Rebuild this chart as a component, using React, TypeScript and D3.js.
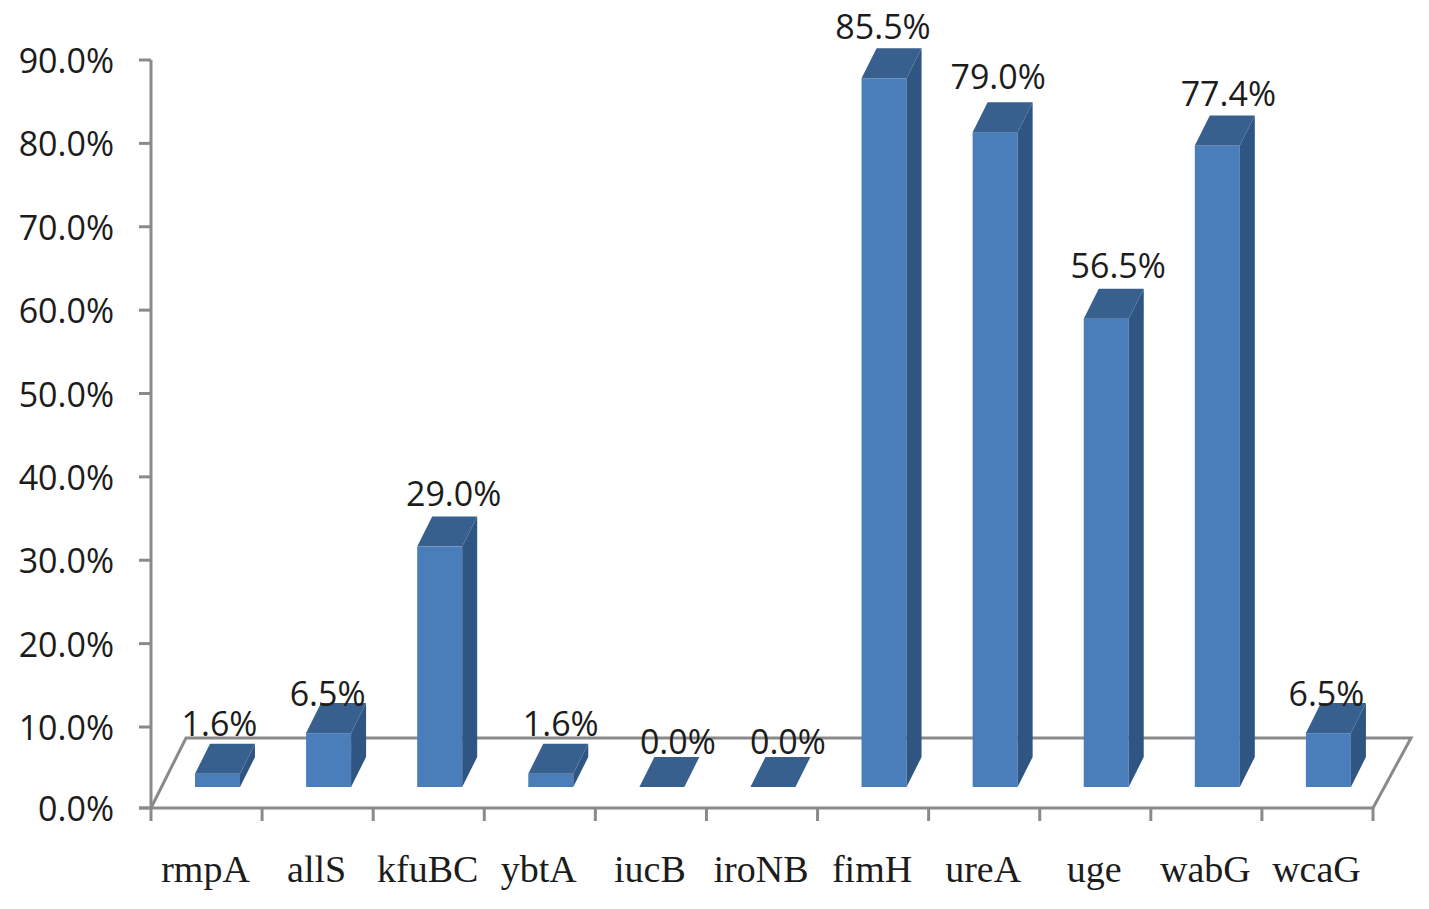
import React from "react";
import * as d3 from "d3";

const categories = ["rmpA", "allS", "kfuBC", "ybtA", "iucB", "iroNB", "fimH", "ureA", "uge", "wabG", "wcaG"];
const seriesValues = [1.6, 6.5, 29.0, 1.6, 0.0, 0.0, 85.5, 79.0, 56.5, 77.4, 6.5];
const yTicks = [0, 10, 20, 30, 40, 50, 60, 70, 80, 90];
const labelNudgeX = [2, -1, 14, 10, 16, 15, -1, 3, 12, 11, -2];
const labelNudgeY = [38, 27, 41, 38, 33, 33, 39, 43, 41, 39, 27];

const W = 1429, H = 909;
const axisX = 151, axisRight = 1373, axisY0 = 808, axisY90 = 60;
const floorDx = 35, floorDy = 70, floorRightDx = 38;
const barBase = 787, depthX = 15, depthY = 30;
const FRONT = "#4a7ebb", TOP = "#38608f", SIDE = "#2f5583", GREY = "#8a8a8a", INK = "#1c1c1c";
const sans = "'Open Sans', 'Noto Sans', sans-serif";

export default function App() {
  const yAxis = d3.scaleLinear().domain([0, 10, 90]).range([axisY0, 727, axisY90]);
  const yBar = d3.scaleLinear().domain([0, 90]).range([barBase, barBase - 746]);
  const x = d3.scaleBand<string>().domain(categories).range([axisX, axisRight]).paddingInner(0).paddingOuter(0);
  const step = x.bandwidth();
  const barW = 45;
  const barOffset = 44;
  const pts = (a: number[][]) => a.map((p) => p.join(",")).join(" ");
  const edges = [axisX, ...categories.map((c) => (x(c) as number) + step)];
  return (
    <svg width={W} height={H} viewBox={`0 0 ${W} ${H}`} style={{ position: "absolute", left: 0, top: 0, display: "block", background: "#fff" }}>
      <polyline
        points={pts([[axisX, axisY0], [axisX + floorDx, axisY0 - floorDy], [axisRight + floorRightDx, axisY0 - floorDy], [axisRight, axisY0]])}
        fill="none" stroke={GREY} strokeWidth={3}
      />
      <line x1={axisX} x2={axisX} y1={axisY90} y2={axisY0} stroke={GREY} strokeWidth={3} />
      <line x1={axisX - 12} x2={axisRight} y1={axisY0} y2={axisY0} stroke={GREY} strokeWidth={3} />
      {yTicks.map((t) => (
        <g key={t}>
          <line x1={axisX - 12} x2={axisX} y1={yAxis(t)} y2={yAxis(t)} stroke={GREY} strokeWidth={3} />
          <text x={114} y={yAxis(t) + 13} textAnchor="end" fontFamily={sans} fontSize={34} fill={INK}>
            {t.toFixed(1)}%
          </text>
        </g>
      ))}
      {edges.map((e, i) => (
        <line key={i} x1={e} x2={e} y1={axisY0} y2={axisY0 + 13} stroke={GREY} strokeWidth={3} />
      ))}
      {categories.map((c, i) => {
        const v = seriesValues[i];
        const x0 = (x(c) as number) + barOffset;
        const x1 = x0 + barW;
        const yt = yBar(v);
        return (
          <g key={c}>
            {v > 0 && <rect x={x0} y={yt} width={barW} height={barBase - yt} fill={FRONT} />}
            <polygon points={pts([[x1, yt], [x1 + depthX, yt - depthY], [x1 + depthX, barBase - depthY], [x1, barBase]])} fill={SIDE} />
            <polygon points={pts([[x0, yt], [x0 + depthX, yt - depthY], [x1 + depthX, yt - depthY], [x1, yt]])} fill={TOP} />
          </g>
        );
      })}
      {categories.map((c, i) => {
        const cx = (x(c) as number) + barOffset + barW / 2 + labelNudgeX[i];
        return (
          <text key={c} x={cx} y={yBar(seriesValues[i]) - labelNudgeY[i]} textAnchor="middle" fontFamily={sans} fontSize={34} fill={INK}>
            {seriesValues[i].toFixed(1)}%
          </text>
        );
      })}
      {categories.map((c) => (
        <text
          key={c}
          x={(x(c) as number) + step / 2 - 1}
          y={882}
          textAnchor="middle"
          fontFamily="'Liberation Serif', serif"
          fontSize={38}
          fill={INK}
        >
          {c}
        </text>
      ))}
    </svg>
  );
}
